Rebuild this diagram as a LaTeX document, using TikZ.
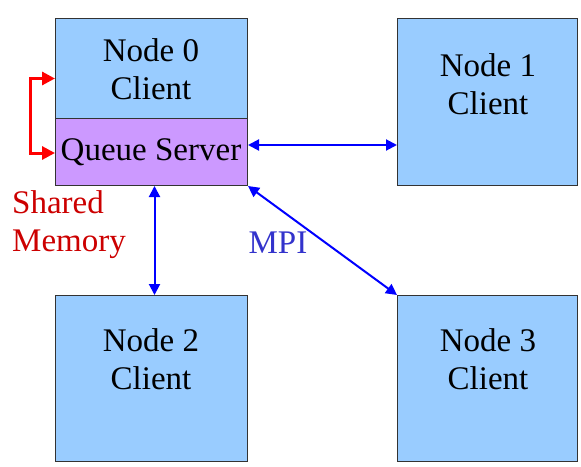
\documentclass[tikz,border=0pt]{standalone}
\usepackage{fontspec}
\setmainfont{Liberation Serif}
\usetikzlibrary{arrows.meta}
\definecolor{clientblue}{HTML}{99CCFF}
\definecolor{qspurple}{HTML}{CC99FF}
\definecolor{mpiblue}{HTML}{0000FF}
\definecolor{mpitext}{HTML}{3333CC}
\definecolor{shmred}{HTML}{FF0000}
\definecolor{shmtext}{HTML}{CC0000}
\begin{document}
\begin{tikzpicture}[x=1pt,y=-1pt,
  box/.style={draw=black!80, line width=1pt, inner sep=0pt, anchor=north west},
  client/.style={box, fill=clientblue},
  lbl/.style={font=\fontsize{33}{38}\selectfont, align=center, inner sep=0pt},
  mpi/.style={draw=mpiblue, line width=2pt, {Triangle[length=11pt,width=11pt]}-{Triangle[length=11pt,width=11pt]}},
  shm/.style={draw=shmred, line width=3pt, {Triangle[length=13pt,width=13pt]}-{Triangle[length=13pt,width=13pt]}}
]
\useasboundingbox (0,0) rectangle (581,466);
\node[client, minimum width=192pt, minimum height=100pt] (n0) at (55,18) {};
\node[box, fill=qspurple, minimum width=192pt, minimum height=67pt] (qs) at (55,118) {};
\node[client, minimum width=180pt, minimum height=167pt] (n1) at (397,18) {};
\node[client, minimum width=192pt, minimum height=166pt] (n2) at (55,295) {};
\node[client, minimum width=180pt, minimum height=166pt] (n3) at (397,295) {};
\node[lbl] (t0) at (151,69) {Node 0\\Client};
\node[lbl] (tq) at (151,152) {Queue Server};
\node[lbl] (t1) at (488,84) {Node 1\\Client};
\node[lbl] (t2) at (151,359) {Node 2\\Client};
\node[lbl] (t3) at (488,359) {Node 3\\Client};
\node[lbl, align=left, anchor=west, text=shmtext] (shmlbl) at (12,225) {Shared\\Memory};
\node[lbl, text=mpitext] (mpilbl) at (278,243) {MPI};
\draw[mpi] ([yshift=7pt]qs.east) -- ([yshift=7pt]qs.east -| n1.west);
\draw[mpi] ([xshift=3pt]qs.south) -- ([xshift=3pt]qs.south |- n2.north);
\draw[mpi] (qs.south east) -- (n3.north west);
\draw[shm] ([yshift=-10pt]n0.west) -- ++(-25,0) |- ([yshift=-1pt]qs.west);
\end{tikzpicture}
\end{document}
